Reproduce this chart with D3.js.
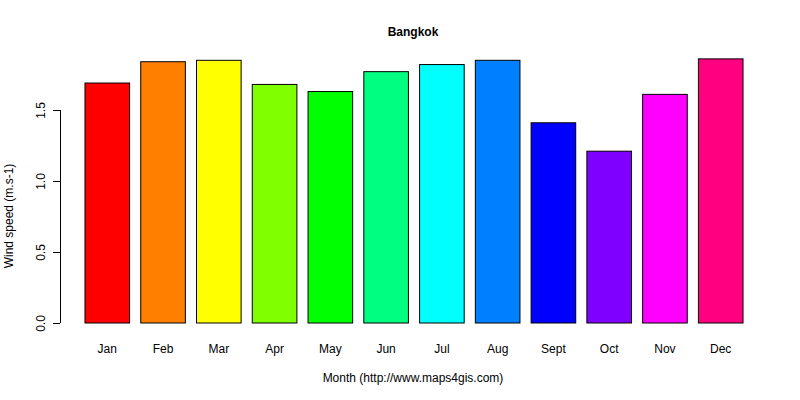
<!DOCTYPE html>
<html><head><meta charset="utf-8">
<script src="https://cdn.jsdelivr.net/npm/d3@7"></script>
<style>body{margin:0;background:#fff}text{font-family:"Liberation Sans",Arial,sans-serif;font-size:12px}</style>
</head><body><svg id="c" width="800" height="400"></svg>
<script>
const months=["Jan","Feb","Mar","Apr","May","Jun","Jul","Aug","Sept","Oct","Nov","Dec"];
const values=[1.69,1.84,1.85,1.68,1.63,1.77,1.82,1.85,1.41,1.21,1.61,1.86];
const colors=["#FF0000","#FF8000","#FFFF00","#80FF00","#00FF00","#00FF80","#00FFFF","#0080FF","#0000FF","#8000FF","#FF00FF","#FF0080"];
const yTicks=[0,0.5,1.0,1.5];
const svg=d3.select("#c");
const x=d3.scaleBand().domain(months).range([79.4,748.6]).paddingInner(0.2).paddingOuter(0.1);
const y=d3.scaleLinear().domain([0,1]).range([323,181]);
svg.selectAll("rect").data(values).join("rect")
 .attr("x",(d,i)=>x(months[i])).attr("width",x.bandwidth())
 .attr("y",d=>y(d)).attr("height",d=>y(0)-y(d))
 .attr("fill",(d,i)=>colors[i]).attr("stroke","#000").attr("stroke-width",1);
const ya=svg.append("g").attr("transform","translate(60,0)")
 .call(d3.axisLeft(y).tickValues(yTicks).tickFormat(d3.format(".1f")).tickSize(7).tickPadding(5));
ya.select(".domain").attr("d",`M-7,${y(0)}H0.5V${y(1.5)}H-7`).attr("d",`M0.5,${y(0)}V${y(1.5)}`);
ya.selectAll(".tick text").attr("font-size",12).attr("fill","#000")
 .attr("transform","rotate(-90)").attr("text-anchor","middle").attr("x",0).attr("dy",0).attr("y",-15);
ya.selectAll(".tick text").each(function(d){d3.select(this).attr("transform",`translate(-15,0) rotate(-90)`).attr("y",0).attr("x",0);});
svg.selectAll(".mlab").data(months).join("text").attr("class","mlab")
 .attr("x",d=>x(d)+x.bandwidth()/2).attr("y",353).attr("text-anchor","middle").text(d=>d);
svg.append("text").attr("x",413).attr("y",36).attr("text-anchor","middle").attr("font-weight","bold").attr("font-size",14).text("Bangkok");
svg.append("text").attr("x",413).attr("y",382).attr("text-anchor","middle").text("Month (http://www.maps4gis.com)");
svg.append("text").attr("transform","translate(13,216) rotate(-90)").attr("text-anchor","middle").text("Wind speed (m.s-1)");
</script></body></html>
